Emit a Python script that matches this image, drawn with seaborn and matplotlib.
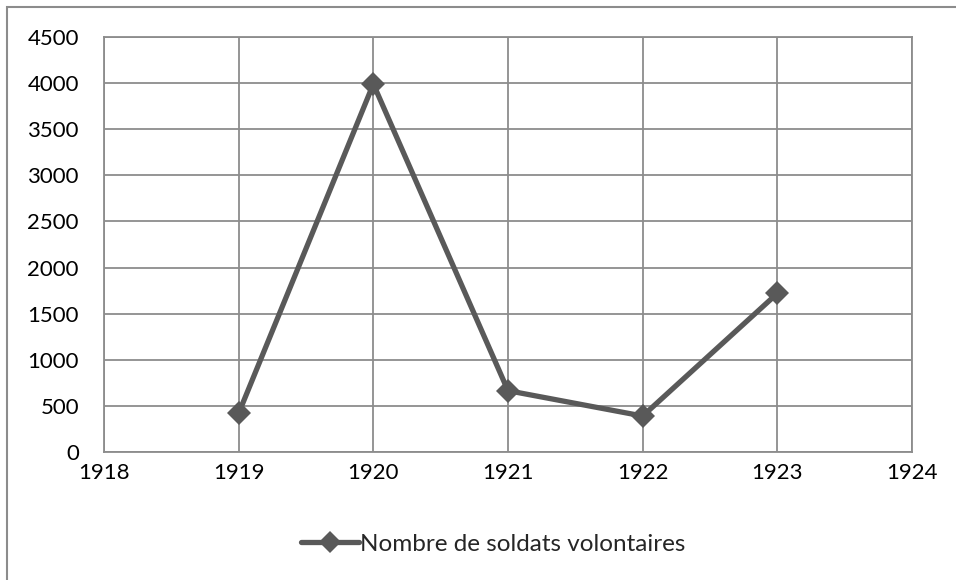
import matplotlib
matplotlib.use("Agg")
import matplotlib.pyplot as plt
import seaborn as sns
import pandas as pd
from matplotlib.lines import Line2D
from matplotlib.patches import Rectangle

years = [1919, 1920, 1921, 1922, 1923]
soldiers = [420, 3990, 665, 390, 1720]
series_name = "Nombre de soldats volontaires"
x_ticks = [1918, 1919, 1920, 1921, 1922, 1923, 1924]
y_ticks = [0, 500, 1000, 1500, 2000, 2500, 3000, 3500, 4000, 4500]

sns.set_theme(style="white")
plt.rcParams['font.family'] = ['Lato', 'DejaVu Sans']

df = pd.DataFrame({"year": years, "value": soldiers})

fig = plt.figure(figsize=(9.56, 5.8), dpi=100)
ax = fig.add_axes([104/956, 1 - 452/580, (912-104)/956, (452-37)/580])

line_color = "#595959"
sns.lineplot(data=df, x="year", y="value", ax=ax, color=line_color,
             linewidth=3.8, marker="D", markersize=12, markeredgewidth=0,
             markerfacecolor=line_color)

ax.set_xlim(1918, 1924)
ax.set_ylim(0, 4500)
ax.set_xticks(x_ticks)
ax.set_yticks(y_ticks)
ax.set_xticklabels([str(t) for t in x_ticks])
ax.set_yticklabels([str(t) for t in y_ticks])
ax.grid(True, color="#8c8c8c", linewidth=1.3)
ax.set_axisbelow(True)
for s in ax.spines.values():
    s.set_color("#8c8c8c")
    s.set_linewidth(1.3)
ax.tick_params(axis="both", length=0, labelsize=16, colors="black")
ax.tick_params(axis="y", pad=18)
ax.tick_params(axis="x", pad=8)
ax.set_xlabel("")
ax.set_ylabel("")
if ax.get_legend():
    ax.get_legend().remove()

handle = Line2D([0], [0], color=line_color, linewidth=3.8, marker="D",
                markersize=11, markeredgewidth=0)
fig.legend([handle], [series_name], loc="center",
           bbox_to_anchor=(0.5 + 15/956, 1 - 544/580),
           frameon=False, fontsize=17.5, handlelength=2.4, handletextpad=0.05)

# outer chart frame
fig.patches.append(Rectangle((7/956, -0.05), 1.1, 1 - 7/580 + 0.05,
                             transform=fig.transFigure, fill=False,
                             edgecolor="#8c8c8c", linewidth=1.5))

fig.savefig("out.png", dpi=100)
